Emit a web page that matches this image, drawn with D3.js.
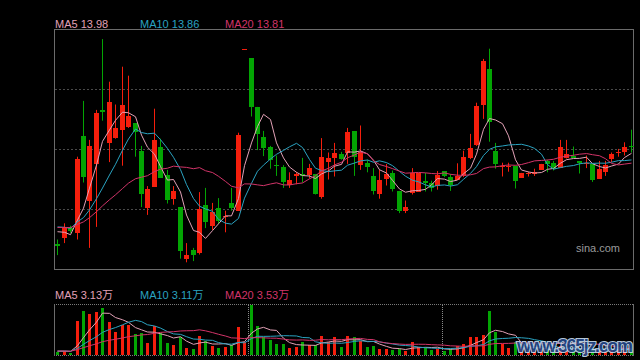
<!DOCTYPE html>
<html><head><meta charset="utf-8">
<script src="https://cdn.jsdelivr.net/npm/d3@7/dist/d3.min.js"></script>
<style>html,body{margin:0;padding:0;background:#000;}svg{display:block;}</style>
</head><body>
<svg id="c" width="640" height="360"></svg>
<script>
// ---- data (price in 元, volume in 万) ----
const open = [12.46,12.56,12.73,12.64,14.27,13.19,13.80,14.70,14.14,14.22,
14.37,14.42,14.48,14.02,13.06,13.42,14.08,13.62,13.21,13.08,
12.22,12.37,12.32,13.12,12.75,13.06,12.93,13.14,13.03,15.72,
15.56,14.75,14.25,14.08,13.79,13.75,13.46,13.59,13.63,13.62,
13.63,13.26,13.82,13.90,13.96,13.98,14.34,13.78,13.81,13.60,
13.29,13.54,13.65,13.35,13.02,13.32,13.34,13.51,13.48,13.43,
13.68,13.58,13.53,13.60,13.90,14.12,14.79,15.38,14.02,13.74,
13.74,13.77,13.57,13.62,13.64,13.70,13.84,13.82,13.73,13.89,
13.94,13.84,13.80,13.80,13.55,13.67,13.87,13.97,13.99,14.09];
const close = [12.43,12.73,12.68,13.88,13.59,14.10,14.65,14.66,14.83,14.39,
14.78,14.60,14.33,13.30,13.38,14.20,13.57,13.20,13.35,12.34,
12.28,12.28,13.05,12.84,12.99,12.85,12.94,13.05,14.29,15.72,
14.75,14.30,14.07,13.86,13.77,13.50,13.54,13.63,13.59,13.73,
13.29,13.92,13.89,13.98,13.88,14.33,13.90,13.99,13.74,13.35,
13.53,13.63,13.38,13.02,13.08,13.65,13.65,13.48,13.39,13.61,
13.60,13.45,13.60,13.92,14.07,14.77,15.52,14.50,13.80,13.76,
13.76,13.52,13.65,13.64,13.67,13.80,13.79,13.72,14.08,13.96,
13.90,13.80,13.82,13.54,13.72,13.78,13.96,13.99,14.08,14.07];
const high = [12.54,12.81,12.77,13.92,14.85,14.20,14.70,15.88,15.17,14.79,
15.42,15.27,14.48,14.10,13.43,14.72,14.22,13.70,13.43,13.08,
12.48,12.40,13.33,13.40,13.15,13.23,13.02,13.40,14.32,15.72,
15.56,14.75,14.35,14.10,13.94,13.78,13.66,13.66,13.90,13.80,
13.63,14.23,13.99,14.15,14.00,14.40,14.34,14.44,13.87,13.73,
13.70,13.80,13.69,13.35,13.19,13.73,13.65,13.65,13.52,13.68,
13.68,13.63,13.81,14.02,14.30,14.82,15.55,15.72,14.15,13.82,
13.82,13.77,13.65,13.67,13.72,13.80,13.87,13.85,14.20,14.20,
14.09,13.84,13.94,13.80,13.85,13.85,13.99,14.05,14.16,14.37];
const low = [12.28,12.48,12.65,12.54,13.49,12.40,12.75,14.52,13.83,14.22,
13.77,14.40,13.92,13.08,12.95,13.42,13.57,13.14,13.12,12.22,
12.16,12.18,12.29,12.73,12.70,12.80,12.66,13.02,13.02,15.72,
14.59,14.03,13.93,13.72,13.60,13.40,13.40,13.46,13.49,13.56,
13.29,13.22,13.54,13.59,13.87,13.80,13.60,13.70,13.66,13.29,
13.22,13.44,13.34,12.98,12.98,13.29,13.34,13.34,13.34,13.37,
13.58,13.35,13.53,13.58,13.88,14.10,14.55,14.17,13.72,13.59,
13.67,13.39,13.57,13.59,13.60,13.70,13.66,13.69,13.73,13.89,
13.90,13.64,13.73,13.50,13.55,13.60,13.83,13.92,13.94,13.99];
const volume = [1.36,2.17,1.12,20.77,26.97,25.11,26.35,29.0,20.15,13.95,
18.29,18.29,12.71,13.33,7.13,17.67,13.33,7.13,5.89,11.04,
4.03,3.41,11.47,8.37,5.27,4.03,4.65,5.89,17.05,7.94,
30.69,17.67,10.85,8.99,6.51,6.51,4.03,4.65,7.75,5.89,
5.89,11.47,7.75,10.85,4.65,11.47,10.66,8.37,4.65,5.27,
3.41,3.41,2.79,3.41,2.36,7.75,4.65,4.03,2.79,3.41,
2.36,3.41,5.27,6.51,10.66,11.04,12.28,26.97,14.14,6.70,
3.84,7.8,3.84,2.79,2.79,3.41,3.41,2.79,5.2,3.41,
3.1,3.3,2.6,3.2,3.41,3.22,3.22,2.79,3.60,2.79];
// closes / volumes of the 19 sessions before the window (estimated from where the MA lines start)
const priorClose = [12.70,12.76,12.81,12.74,12.69,12.66,12.72,12.78,12.75,12.69,
12.80,12.86,12.79,12.88,12.82,12.78,12.88,12.66,12.60];
const priorVolume = [2.1,2.4,2.0,2.3,2.2,1.9,2.5,2.2,2.1,2.3,2.0,2.4,2.2,2.1,2.3,2.2,2.0,2.4,2.1];
const maPeriods = [5, 10, 20];
const maNames = ["MA5", "MA10", "MA20"];
const priceMaLabels = ["13.98", "13.86", "13.81"];
const volMaLabels = ["3.13万", "3.11万", "3.53万"];
const priceRange = [12.04, 16.04];
const separators = [30, 60];

// ---- styles ----
const RED = "#f51e0c", GREEN = "#03a503";
const MA_COLORS = ["#e2a1b6", "#2aa3c1", "#d23469"];
const FONT = "'Liberation Sans', Arial, 'Noto Sans CJK SC', sans-serif";

const svg = d3.select("#c");
svg.append("rect").attr("width", 640).attr("height", 360).attr("fill", "#000");

const N = close.length;
const x = d3.scaleBand().domain(d3.range(N)).range([54, 634]);
const cx = i => Math.round(x(i) + x.bandwidth() / 2);
const y = d3.scaleLinear().domain(priceRange).range([269.5, 29.5]);
const vy = d3.scaleLinear().domain([0, d3.max(volume)]).range([354.5, 305]);

function movingAvg(prior, vals, p) {
  const all = prior.concat(vals);
  const off = prior.length;
  return vals.map((_, i) => d3.mean(all.slice(off + i - p + 1, off + i + 1)));
}
const isUp = i => close[i] > open[i] || (close[i] === open[i] && (i === 0 || close[i] >= close[i - 1]));

// ---- main panel ----
const g = svg.append("g");
[0.25, 0.5, 0.75].forEach(t => {
  const py = y(priceRange[0] + (priceRange[1] - priceRange[0]) * t);
  g.append("line").attr("x1", 55).attr("x2", 633).attr("y1", py).attr("y2", py)
    .attr("stroke", "#4a4a4a").attr("stroke-dasharray", "2,2");
});
g.append("rect").attr("x", 54.5).attr("y", 29.5).attr("width", 579).attr("height", 240)
  .attr("fill", "none").attr("stroke", "#6b6b6b");

g.append("text").attr("x", 620).attr("y", 252).attr("text-anchor", "end")
  .attr("font-family", FONT).attr("font-size", 11).attr("fill", "#9a9a9a").text("sina.com");

const candles = g.append("g").selectAll("g").data(d3.range(N)).join("g");
candles.append("line")
  .attr("x1", i => cx(i) + 0.5).attr("x2", i => cx(i) + 0.5)
  .attr("y1", i => y(high[i])).attr("y2", i => y(low[i]))
  .attr("stroke", i => isUp(i) ? RED : GREEN);
candles.append("rect")
  .attr("x", i => cx(i) - 2).attr("width", 5)
  .attr("y", i => Math.round(y(Math.max(open[i], close[i]))))
  .attr("height", i => Math.max(1, Math.round(Math.abs(y(open[i]) - y(close[i])))))
  .attr("fill", i => isUp(i) ? RED : GREEN);

maPeriods.forEach((p, k) => {
  const ma = movingAvg(priorClose, close, p);
  g.append("path").datum(ma)
    .attr("d", d3.line().x((d, i) => cx(i) + 0.5).y(d => y(d)))
    .attr("fill", "none").attr("stroke", MA_COLORS[k]).attr("stroke-width", 1);
});

// legends
maNames.forEach((n, k) => {
  svg.append("text").attr("x", 55 + 85 * k).attr("y", 28)
    .attr("font-family", FONT).attr("font-size", 11).attr("fill", MA_COLORS[k])
    .text(n + " " + priceMaLabels[k]);
  svg.append("text").attr("x", 55 + 85 * k).attr("y", 299)
    .attr("font-family", FONT).attr("font-size", 11).attr("fill", MA_COLORS[k])
    .text(n + " " + volMaLabels[k]);
});

// ---- volume panel ----
const v = svg.append("g");
v.append("line").attr("x1", 54).attr("x2", 634).attr("y1", 304.5).attr("y2", 304.5)
  .attr("stroke", "#7a7a7a").attr("stroke-dasharray", "1,1");
v.append("line").attr("x1", 54).attr("x2", 634).attr("y1", 355.5).attr("y2", 355.5)
  .attr("stroke", "#7a7a7a").attr("stroke-dasharray", "1,1");
v.append("line").attr("x1", 54.5).attr("x2", 54.5).attr("y1", 304).attr("y2", 356).attr("stroke", "#6b6b6b");
v.append("line").attr("x1", 633.5).attr("x2", 633.5).attr("y1", 304).attr("y2", 356).attr("stroke", "#6b6b6b");
separators.forEach(s => {
  const sx = Math.round(x(s)) + 1.5;
  v.append("line").attr("x1", sx).attr("x2", sx).attr("y1", 305).attr("y2", 355)
    .attr("stroke", "#8a8a8a").attr("stroke-dasharray", "1,1");
});
v.append("g").selectAll("rect").data(d3.range(N)).join("rect")
  .attr("x", i => cx(i) - 1).attr("width", 3)
  .attr("y", i => Math.round(vy(volume[i])))
  .attr("height", i => 355 - Math.round(vy(volume[i])))
  .attr("fill", i => isUp(i) ? RED : GREEN);
maPeriods.forEach((p, k) => {
  const ma = movingAvg(priorVolume, volume, p);
  v.append("path").datum(ma)
    .attr("d", d3.line().x((d, i) => cx(i) + 0.5).y(d => vy(d)))
    .attr("fill", "none").attr("stroke", MA_COLORS[k]).attr("stroke-width", 1);
});

// watermark present on the reference image
svg.append("text").attr("x", 517).attr("y", 352).attr("textLength", 116)
  .attr("font-family", FONT).attr("font-weight", "bold").attr("font-size", 18)
  .attr("fill", "#24498a").attr("stroke", "#c9dcef").attr("stroke-width", 2.2)
  .attr("paint-order", "stroke").attr("opacity", 0.9).text("www.365jz.com");
</script>
</body></html>
